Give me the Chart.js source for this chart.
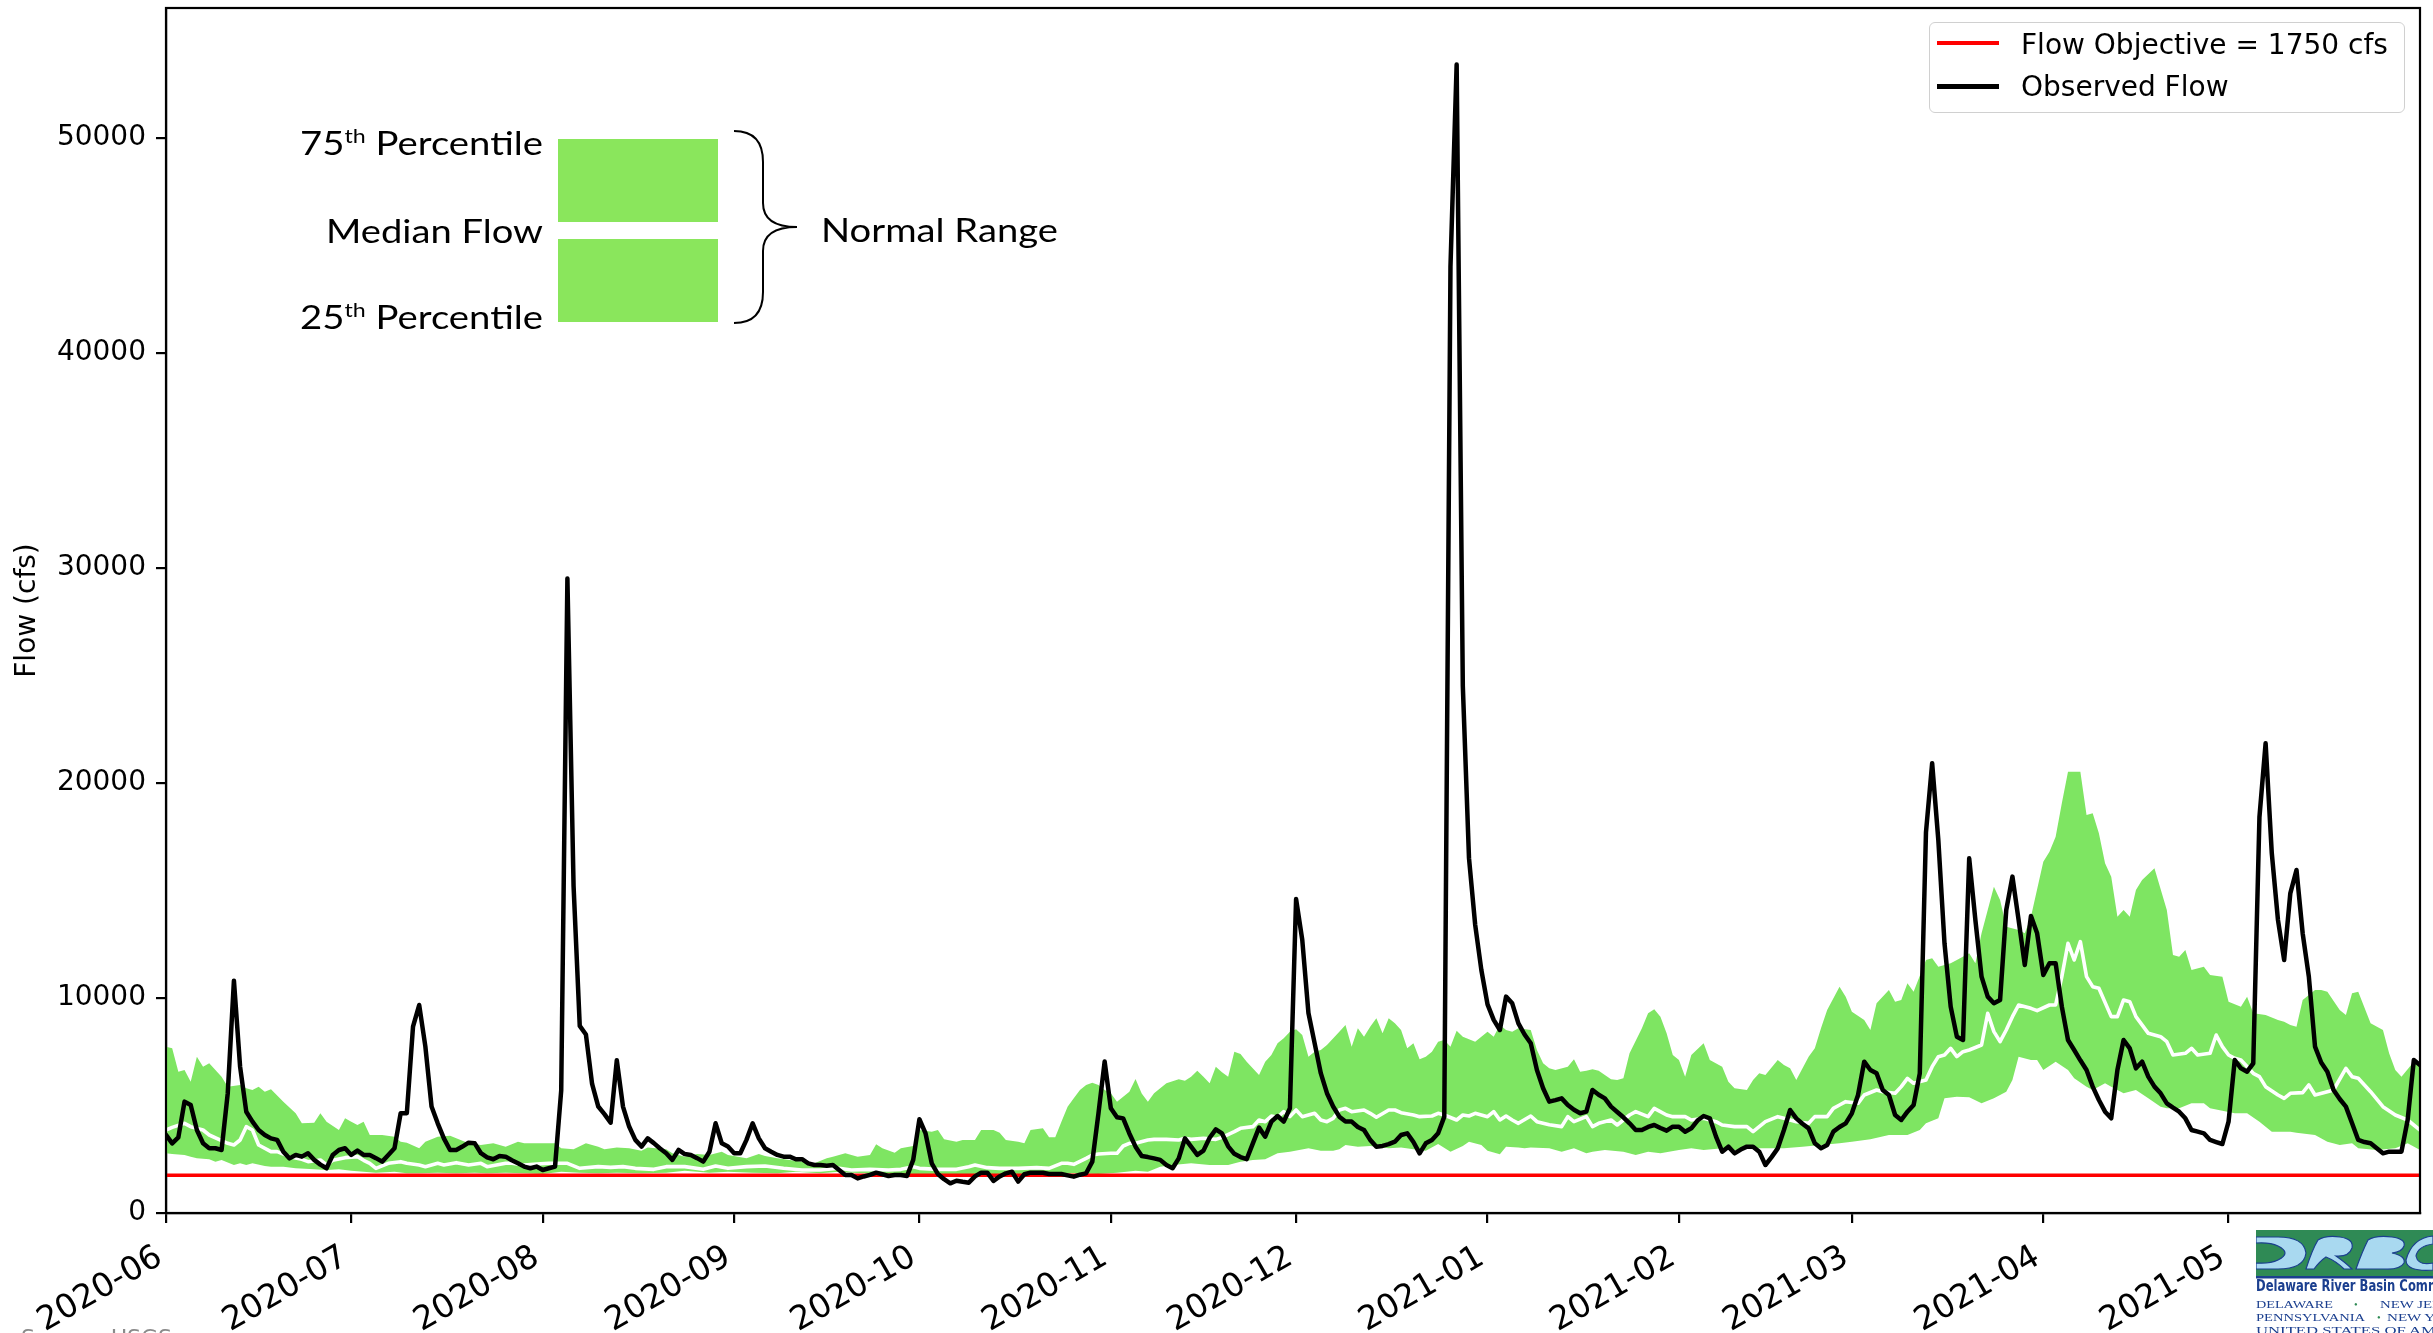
<!DOCTYPE html>
<html>
<head>
<meta charset="utf-8">
<script src="https://cdn.jsdelivr.net/npm/chart.js@4.4.0/dist/chart.umd.min.js"></script>
<style>
html,body{margin:0;padding:0;background:#fff;width:2433px;height:1333px;overflow:hidden;}
#wrap{position:relative;width:2433px;height:1333px;overflow:hidden;}
#c{position:absolute;left:0;top:0;}
.ov{position:absolute;white-space:nowrap;line-height:1;}
.lg{font-family:"DejaVu Sans",sans-serif;font-size:28px;color:#000;}
.ins{font-family:Lato,"Open Sans",sans-serif;font-size:33px;color:#000;transform-origin:0 50%;}
.sup{font-size:20px;position:relative;top:-12px;}
</style>
</head>
<body>
<div id="wrap">
<canvas id="c" width="2433" height="1333"></canvas>

<!-- legend -->
<div class="ov" style="left:1929px;top:22px;width:476px;height:91px;border:1.5px solid #d0d0d0;border-radius:6px;background:rgba(255,255,255,0.85);box-sizing:border-box;"></div>
<div class="ov" style="left:1937px;top:41px;width:62px;height:3.5px;background:#ff0000;"></div>
<div class="ov" style="left:1937px;top:84px;width:62px;height:4.5px;background:#000;"></div>
<div class="ov lg" style="left:2021px;top:31px;">Flow Objective = 1750 cfs</div>
<div class="ov lg" style="left:2021px;top:73px;">Observed Flow</div>

<!-- inset key -->
<div class="ov" style="left:558px;top:139px;width:160px;height:83px;background:#8ae65c;"></div>
<div class="ov" style="left:558px;top:239px;width:160px;height:83px;background:#8ae65c;"></div>
<div class="ov ins fit" data-w="243" style="left:300px;top:126px;">75<span class="sup">th</span> Percentile</div>
<div class="ov ins fit" data-w="217" style="left:326px;top:214px;">Median Flow</div>
<div class="ov ins fit" data-w="243" style="left:300px;top:300px;">25<span class="sup">th</span> Percentile</div>
<div class="ov ins fit" data-w="237" style="left:821px;top:213px;">Normal Range</div>
<svg class="ov" style="left:0;top:0;" width="900" height="400">
  <path d="M734,131 Q763,131 763,162 L763,203 Q763,227 797,227 Q763,227 763,251 L763,292 Q763,323 734,323" fill="none" stroke="#000" stroke-width="2"/>
</svg>

<!-- source (cut off) -->
<div class="ov" style="left:21px;top:1327px;font-family:'DejaVu Sans',sans-serif;font-size:22px;color:#8a8a8a;">Source: USGS</div>

<!-- DRBC logo (cut off at right) -->
<svg class="ov" style="left:2256px;top:1230px;" width="177" height="103">
  <rect x="0" y="0" width="177" height="46" fill="#2f8a55"/>
  <g fill="#a9d9f0" stroke="#1b3f8f" stroke-width="1.2">
    <path d="M0,7 L22,7 Q48,7 50,23 Q48,39 22,39 L0,39 L0,33 Q14,34 22,30 Q36,23 22,16 Q14,12 0,13 Z"/>
    <path d="M50,39 Q56,20 62,10 Q70,5 84,7 Q98,9 96,18 Q93,27 80,26 Q90,33 96,39 L88,39 Q80,31 70,27 Q64,31 58,39 Z"/>
    <path d="M100,39 Q106,22 112,10 Q120,5 136,7 Q150,9 148,16 Q146,22 136,23 Q150,26 148,33 Q144,40 128,39 Z"/>
    <path d="M150,30 Q156,8 177,6 L177,14 Q162,16 160,26 Q162,36 177,33 L177,40 Q150,42 150,30 Z"/>
  </g>
  <rect x="0" y="46" width="177" height="2.5" fill="#1b3f8f"/>
  <text x="0" y="61" font-family="'Liberation Sans Narrow','DejaVu Sans Condensed',sans-serif" font-weight="bold" font-size="15" fill="#1b3f8f" textLength="222" lengthAdjust="spacingAndGlyphs">Delaware River Basin Commission</text>
  <g font-family="'Liberation Serif',serif" font-size="10.5" fill="#1b3f8f">
    <text x="0" y="78" textLength="77" lengthAdjust="spacingAndGlyphs">DELAWARE</text>
    <text x="98" y="78" fill="#2f8a55">•</text>
    <text x="124" y="78" textLength="90" lengthAdjust="spacingAndGlyphs">NEW JERSEY</text>
    <text x="0" y="91" textLength="109" lengthAdjust="spacingAndGlyphs">PENNSYLVANIA</text>
    <text x="121" y="91" fill="#2f8a55">•</text>
    <text x="131" y="91" textLength="80" lengthAdjust="spacingAndGlyphs">NEW YORK</text>
    <text x="0" y="104" textLength="230" lengthAdjust="spacingAndGlyphs">UNITED STATES OF AMERICA</text>
  </g>
</svg>
</div>

<script>
// ---------------- data ----------------
// x = days since 2020-06-01
const monthTickDays   = [0, 30, 61, 92, 122, 153, 183, 214, 245, 273, 304, 334];
const monthTickLabels = ['2020-06','2020-07','2020-08','2020-09','2020-10','2020-11',
                         '2020-12','2021-01','2021-02','2021-03','2021-04','2021-05'];
const yTickValues = [0, 10000, 20000, 30000, 40000, 50000];
const flowObjective = 1750;
const seriesLabels = ['Flow Objective = 1750 cfs', 'Observed Flow'];

// observed daily flow (cfs), index = day since 2020-06-01
const observedFlow = [
 3630,3240,3520,5180,5020,3860,3240,3010,3010,2930,
 5570,10800,6800,4710,4250,3860,3630,3470,3400,2850,
 2540,2700,2620,2780,2470,2250,2080,2700,2930,3010,
 2700,2900,2700,2700,2550,2390,2700,3010,4640,4640,
 8670,9670,7740,4950,4170,3470,2930,2930,3090,3270,
 3240,2780,2590,2500,2650,2620,2450,2310,2160,2080,
 2160,2000,2080,2160,5700,29500,15200,8700,8300,6000,
 4950,4600,4200,7100,4950,4020,3400,3090,3470,3250,
 3000,2780,2470,2930,2740,2700,2550,2390,2850,4170,
 3240,3090,2780,2780,3400,4170,3470,3010,2850,2700,
 2620,2620,2500,2500,2310,2230,2230,2200,2230,2000,
 1770,1770,1610,1700,1770,1875,1800,1720,1770,1770,
 1720,2470,4360,3700,2310,1810,1570,1380,1500,1450,
 1410,1700,1875,1875,1490,1700,1845,1920,1460,1800,
 1875,1875,1870,1813,1813,1813,1750,1690,1780,1845,
 2390,4640,7040,4870,4450,4400,3700,3085,2650,2600,
 2540,2470,2230,2080,2540,3470,3090,2700,2900,3500,
 3890,3700,3100,2750,2600,2500,3240,3970,3550,4250,
 4510,4250,4870,14600,12700,9300,7900,6500,5570,4950,
 4480,4250,4250,4000,3860,3400,3085,3120,3200,3317,
 3627,3705,3300,2775,3240,3395,3705,4480,44000,53400,
 24500,16500,13400,11300,9700,8980,8510,10060,9750,8820,
 8300,7890,6650,5800,5177,5250,5330,5020,4800,4640,
 4712,5720,5500,5330,4945,4700,4450,4170,3860,3860,
 4000,4092,3950,3828,4015,4015,3782,3937,4300,4510,
 4402,3550,2852,3085,2775,2950,3085,3085,2852,2232,
 2600,3007,3860,4790,4402,4150,3937,3240,3007,3162,
 3782,4000,4170,4635,5487,7037,6650,6495,5720,5487,
 4557,4325,4712,5022,6495,17700,20910,17345,12540,9595,
 8200,8045,16490,13625,10990,10060,9750,9905,14090,15640,
 13625,11530,13810,13005,11070,11610,11610,9595,8045,7580,
 7100,6650,5875,5255,4712,4402,6650,8045,7657,6727,
 7037,6340,5875,5565,5100,4900,4712,4402,3860,3780,
 3705,3395,3300,3208,4247,7115,6727,6572,6960,18400,
 21840,16725,13625,11765,14865,15950,13005,10990,7735,7000,
 6572,5720,5300,4945,4170,3395,3300,3240,3007,2775,
 2852,2852,2852,4325,7115,6880
];

// historical 75th percentile [day, cfs]
const pct75 = [[0,7735],[1,7657],[2,6572],[3,6650],[4,6107],[5,7270],[6,6805],[7,6960],[9,6340],[10,5875],[12,5952],[13,5797],[14,5720],[15,5875],[16,5642],[17,5750],[19,5177],[21,4635],[22,4170],[24,4200],[25,4635],[26,4247],[28,3860],[29,4400],[30,4247],[31,4092],[32,4247],[33,3627],[35,3627],[37,3550],[38,3317],[39,3270],[41,3007],[42,3317],[44,3550],[46,3596],[47,3472],[49,3240],[51,3162],[53,3240],[55,3085],[57,3317],[58,3240],[60,3240],[63,3240],[64,3007],[66,2960],[68,3240],[70,3085],[71,2960],[73,3050],[75,3007],[77,2900],[78,3050],[81,2960],[82,2775],[84,2620],[86,2743],[88,2697],[90,2852],[91,2697],[94,2542],[96,2743],[97,2650],[99,2542],[101,2465],[103,2387],[105,2310],[107,2542],[108,2620],[110,2775],[112,2620],[114,2697],[115,3193],[116,3007],[118,2805],[119,3007],[121,3115],[122,3860],[124,3782],[125,3860],[126,3425],[128,3317],[129,3395],[131,3395],[132,3860],[134,3860],[135,3735],[136,3395],[138,3317],[139,3240],[140,3860],[142,3937],[143,3518],[144,3518],[145,4247],[146,4945],[147,5332],[148,5720],[149,5952],[150,6060],[151,5952],[152,5720],[153,5565],[154,5177],[156,5642],[157,6231],[158,5560],[159,5177],[160,5565],[161,5797],[162,6030],[164,6215],[165,6153],[166,6340],[167,6618],[168,6340],[169,6030],[170,6805],[171,6550],[172,6340],[173,7500],[174,7393],[175,7037],[177,6417],[178,7037],[179,7347],[180,7890],[181,8122],[182,8432],[183,8540],[184,8277],[185,7270],[186,7502],[187,7580],[188,7812],[190,8432],[191,8742],[192,7735],[193,8587],[194,8200],[195,8665],[196,9052],[197,8355],[198,9052],[199,8820],[200,8510],[201,7657],[202,7890],[203,7146],[204,7270],[205,7502],[206,7967],[207,8045],[208,7735],[209,8479],[210,8200],[212,7967],[213,8200],[214,8432],[215,8200],[216,8742],[217,8510],[218,8432],[219,8587],[221,8510],[222,7580],[223,6960],[224,6727],[225,6650],[227,6805],[228,7146],[229,6572],[230,6618],[231,6680],[232,6618],[234,6215],[235,6185],[236,6262],[237,7425],[239,8587],[240,9285],[241,9470],[242,9130],[243,8355],[244,7347],[245,7115],[246,6340],[247,7347],[249,7890],[250,7115],[252,6805],[253,6107],[254,5797],[256,5720],[257,6185],[258,6495],[259,6417],[261,7115],[262,6882],[263,6727],[264,6185],[266,7270],[267,7657],[268,8587],[269,9440],[271,10525],[272,10060],[273,9362],[275,8975],[276,8510],[277,9750],[279,10370],[280,9827],[281,9905],[282,10680],[283,10290],[285,11765],[286,11840],[287,11455],[289,11610],[290,11765],[292,12075],[293,11610],[294,13005],[295,14090],[296,15175],[297,14555],[298,13315],[300,13160],[301,13005],[302,13780],[304,16337],[305,16800],[306,17500],[307,19050],[308,20520],[310,20520],[311,18507],[312,18585],[313,17655],[314,16260],[315,15640],[316,13780],[317,14090],[318,13780],[319,15020],[320,15485],[322,16027],[324,14090],[325,11997],[326,11920],[327,12230],[328,11300],[330,11455],[331,11070],[333,10990],[334,9827],[336,9595],[337,10060],[338,9285],[340,9207],[342,8975],[343,8897],[344,8742],[345,8665],[346,9905],[348,10370],[349,10370],[350,10290],[352,9440],[353,9207],[354,10215],[355,10290],[357,8820],[359,8510],[360,7425],[361,6650],[362,6340],[364,7037],[365,6882]];

// historical median [day, cfs]
const pct50 = [[0,3860],[1,3983],[3,4170],[4,4015],[6,3860],[7,3627],[9,3363],[10,3240],[11,3162],[12,3395],[13,4015],[14,3860],[15,3162],[17,2852],[18,2852],[20,2620],[22,2495],[23,2387],[25,2465],[26,2232],[27,2450],[29,2573],[31,2620],[32,2450],[33,2310],[34,2077],[36,2310],[38,2387],[39,2310],[41,2232],[42,2155],[44,2310],[45,2232],[47,2340],[49,2232],[51,2310],[52,2155],[55,2310],[56,2310],[58,2232],[60,2278],[62,2310],[65,2310],[67,2077],[70,2155],[72,2123],[74,2155],[76,2077],[79,2030],[81,2155],[84,2155],[87,2030],[89,2185],[91,2077],[94,2155],[97,2185],[100,2077],[103,2000],[106,2000],[109,2077],[111,2000],[114,2030],[117,2000],[119,2030],[121,2155],[122,2077],[125,2030],[128,2030],[130,2155],[131,2232],[133,2108],[135,2077],[138,2077],[141,2108],[143,2077],[145,2310],[146,2310],[147,2263],[149,2542],[150,2697],[151,2743],[153,2775],[154,2775],[155,3115],[156,3240],[157,3240],[159,3395],[160,3425],[162,3425],[164,3395],[165,3472],[166,3425],[168,3472],[170,3425],[171,3518],[173,3782],[174,3937],[176,4015],[177,4325],[178,4247],[179,4510],[180,4450],[181,4712],[182,4480],[183,4790],[184,4480],[186,4635],[187,4325],[188,4247],[189,4400],[190,4790],[191,4867],[192,4712],[194,4790],[195,4635],[196,4450],[198,4790],[199,4790],[200,4665],[202,4557],[203,4480],[205,4510],[206,4635],[207,4557],[209,4325],[210,4557],[211,4510],[212,4635],[214,4480],[215,4712],[216,4325],[217,4510],[218,4325],[219,4170],[221,4510],[222,4247],[224,4100],[226,4015],[227,4480],[228,4247],[230,4480],[231,4015],[232,4170],[234,4325],[235,4092],[237,4557],[238,4712],[240,4480],[241,4867],[243,4557],[244,4480],[246,4480],[247,4325],[249,4402],[251,4247],[252,4092],[254,4015],[256,4015],[257,3782],[259,4247],[261,4480],[262,4402],[264,4247],[266,4170],[267,4480],[269,4480],[270,4867],[271,5022],[272,5177],[274,5100],[275,5487],[277,5720],[278,5642],[280,5565],[281,5875],[282,6262],[283,6030],[285,6185],[286,6805],[287,7270],[288,7347],[289,7657],[290,7270],[291,7502],[292,7580],[294,7812],[295,9285],[296,8432],[297,7967],[298,8510],[299,9130],[300,9672],[302,9517],[303,9410],[305,9672],[306,9672],[307,10990],[308,12540],[309,11765],[310,12617],[311,10990],[312,10525],[313,10447],[315,9130],[316,9130],[317,9905],[318,9827],[319,9130],[321,8355],[323,8200],[324,7967],[325,7347],[327,7425],[328,7657],[329,7347],[331,7425],[332,8277],[333,7735],[334,7347],[335,7192],[336,7115],[338,6495],[339,6340],[340,5875],[342,5487],[343,5332],[344,5565],[346,5595],[347,5952],[348,5487],[350,5642],[351,5720],[353,6727],[354,6340],[355,6262],[357,5642],[359,4945],[361,4557],[363,4325],[365,3860]];

// historical 25th percentile [day, cfs]
const pct25 = [[0,2775],[1,2743],[3,2697],[4,2620],[5,2542],[7,2495],[8,2387],[9,2465],[11,2232],[12,2310],[13,2232],[14,2310],[16,2185],[17,2155],[19,2155],[21,2077],[24,2030],[26,2000],[28,2030],[30,1970],[32,1922],[34,1875],[37,1922],[39,1845],[41,1845],[44,1875],[47,1845],[50,1875],[52,1845],[55,1875],[58,1845],[61,1813],[64,1922],[67,1875],[70,1845],[73,1875],[77,1845],[81,1875],[84,1970],[88,1875],[91,1922],[95,1875],[99,1845],[102,1922],[106,1845],[109,1922],[111,1875],[118,1813],[125,1767],[133,1813],[140,1813],[147,1845],[151,1813],[154,1875],[157,1970],[159,1922],[161,2155],[163,2232],[166,2310],[169,2232],[172,2232],[174,2387],[176,2465],[178,2495],[180,2775],[182,2852],[185,3007],[187,2900],[189,2900],[190,2960],[191,3162],[193,3085],[195,3115],[198,3007],[200,3050],[202,2960],[204,2900],[206,3208],[208,2852],[210,3115],[211,3317],[213,3162],[214,2900],[216,2728],[217,3085],[219,3050],[220,3007],[221,3050],[224,3007],[226,2852],[228,3007],[230,2775],[231,2852],[233,2930],[236,2852],[238,2697],[240,2852],[242,2775],[245,2930],[247,3007],[249,2930],[252,3007],[254,2930],[257,3007],[260,3007],[262,3007],[265,3085],[268,3162],[271,3240],[273,3317],[276,3425],[279,3627],[282,3627],[284,3860],[285,4170],[287,4402],[288,5332],[290,5410],[292,5380],[294,5100],[296,5332],[298,5642],[299,6185],[300,7270],[302,7115],[303,7115],[304,6650],[306,7037],[308,6650],[309,6262],[311,5875],[312,5720],[314,6030],[315,5875],[317,5565],[319,5720],[321,5332],[323,4945],[324,4867],[326,4867],[328,5100],[330,5100],[331,4867],[333,4758],[335,4635],[337,4635],[339,4247],[341,3782],[344,3782],[345,3735],[348,3627],[350,3317],[352,3162],[354,3240],[355,3007],[358,2930],[361,3007],[363,3240],[365,2930]];

// ---------------- chart ----------------
const pairs = a => a.map(p => ({x: p[0], y: p[1]}));
const FONT = {family: "'DejaVu Sans', sans-serif", size: 28};
const XFONT = {family: "'DejaVu Sans', sans-serif", size: 33};

const frame = {
  id: 'frame',
  afterDraw(chart) {
    const {ctx, chartArea: a} = chart;
    ctx.save();
    ctx.strokeStyle = '#000';
    ctx.lineWidth = 2.2;
    ctx.strokeRect(a.left, a.top, a.right - a.left, a.bottom - a.top);
    ctx.restore();
  }
};

new Chart(document.getElementById('c'), {
  type: 'line',
  data: {
    datasets: [
      { label: '75th', data: pairs(pct75), borderWidth: 0, borderColor: 'rgba(0,0,0,0)',
        backgroundColor: '#7ee562', fill: 1, pointRadius: 0, order: 5 },
      { label: '25th', data: pairs(pct25), borderWidth: 0, borderColor: 'rgba(0,0,0,0)',
        fill: false, pointRadius: 0, order: 4 },
      { label: 'Median', data: pairs(pct50), borderColor: '#ffffff', borderWidth: 3.6,
        fill: false, pointRadius: 0, order: 3, borderJoinStyle: 'round' },
      { label: seriesLabels[0], data: [{x: 0, y: flowObjective}, {x: 365, y: flowObjective}],
        borderColor: '#ff0000', borderWidth: 3.5, fill: false, pointRadius: 0, order: 2 },
      { label: seriesLabels[1], data: observedFlow.map((v, d) => ({x: d, y: v})),
        borderColor: '#000000', borderWidth: 4.5, fill: false, pointRadius: 0, order: 1,
        borderJoinStyle: 'round', borderCapStyle: 'round' }
    ]
  },
  options: {
    responsive: false,
    animation: false,
    devicePixelRatio: 1,
    layout: {padding: {left: 0, right: 13, top: 8, bottom: 0}},
    plugins: {legend: {display: false}, tooltip: {enabled: false}},
    elements: {line: {tension: 0}},
    scales: {
      x: {
        type: 'linear', min: 0, max: 365,
        afterBuildTicks: s => { s.ticks = monthTickDays.map(v => ({value: v})); },
        afterFit: s => { s.height = 120; s.paddingLeft = 0; s.paddingRight = 0; },
        ticks: {
          autoSkip: false, maxRotation: 30, minRotation: 30, padding: 15, labelOffset: -6,
          color: '#000', font: XFONT,
          callback: v => monthTickLabels[monthTickDays.indexOf(v)]
        },
        grid: {drawOnChartArea: false, drawTicks: true, tickLength: 10, color: '#000', lineWidth: 2.2},
        border: {display: true, color: '#000', width: 2.2}
      },
      y: {
        type: 'linear', min: 0, max: 56030,
        afterBuildTicks: s => { s.ticks = yTickValues.map(v => ({value: v})); },
        afterFit: s => { s.width = 166; s.paddingTop = 0; s.paddingBottom = 0; },
        ticks: {padding: 10, color: '#000', font: FONT, callback: v => String(v)},
        grid: {drawOnChartArea: false, drawTicks: true, tickLength: 10, color: '#000', lineWidth: 2.2},
        border: {display: true, color: '#000', width: 2.2},
        title: {display: true, text: 'Flow (cfs)', color: '#000', font: FONT, padding: {top: 11, bottom: 0}}
      }
    }
  },
  plugins: [frame]
});

// stretch inset labels to the widths they have in the key image
document.querySelectorAll('.fit').forEach(el => {
  const w = el.getBoundingClientRect().width;
  el.style.transform = 'scaleX(' + (parseFloat(el.dataset.w) / w) + ')';
});
</script>
</body>
</html>
